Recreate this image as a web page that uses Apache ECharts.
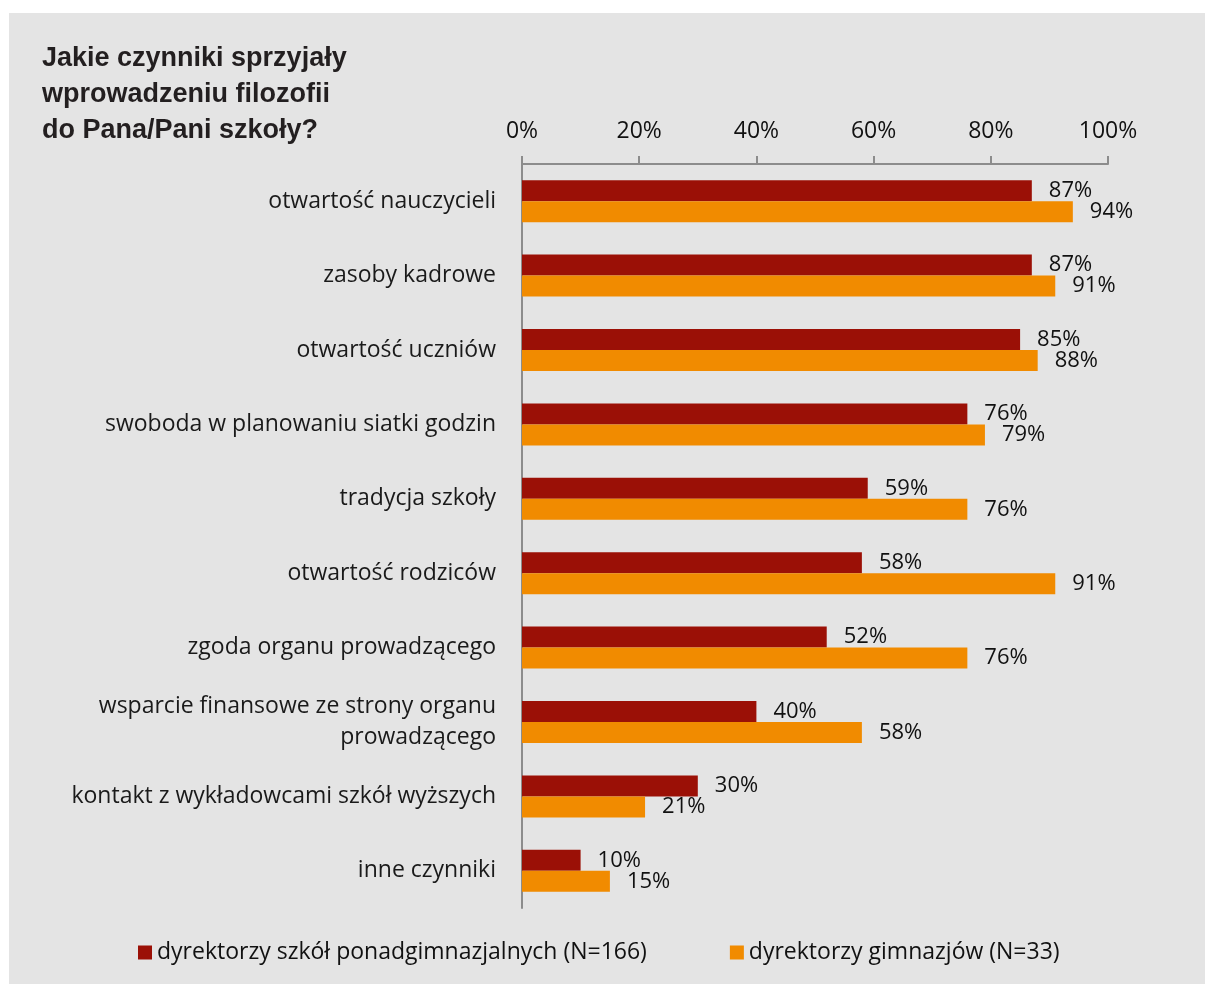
<!DOCTYPE html>
<html>
<head>
<meta charset="utf-8">
<script src="https://cdn.jsdelivr.net/npm/echarts@6/dist/echarts.min.js"></script>
<style>
  html, body { margin: 0; padding: 0; background: #ffffff; }
  #chart { position: absolute; left: 9px; top: 13px; width: 1196px; height: 971px; }
</style>
</head>
<body>
<div id="chart"></div>
<script>
// kategorie (od góry)
const categories = [
  "otwartość nauczycieli",
  "zasoby kadrowe",
  "otwartość uczniów",
  "swoboda w planowaniu siatki godzin",
  "tradycja szkoły",
  "otwartość rodziców",
  "zgoda organu prowadzącego",
  "wsparcie finansowe ze strony organu\nprowadzącego",
  "kontakt z wykładowcami szkół wyższych",
  "inne czynniki"
];
const seriesNames = ["dyrektorzy szkół ponadgimnazjalnych (N=166)", "dyrektorzy gimnazjów (N=33)"];
const ponadgimnazjalne = [87, 87, 85, 76, 59, 58, 52, 40, 30, 10];
const gimnazja = [94, 91, 88, 79, 76, 91, 76, 58, 21, 15];
const xTicks = [0, 20, 40, 60, 80, 100];

const labelFont = "'Open Sans', Lato, sans-serif";

let myChart = echarts.init(document.getElementById("chart"));
var option = {
  backgroundColor: "#e4e4e4",
  animation: false,
  title: {
    text: "Jakie czynniki sprzyjały\nwprowadzeniu filozofii\ndo Pana/Pani szkoły?",
    left: 33,
    top: 28,
    padding: 0,
    textStyle: {
      fontFamily: "'Liberation Sans', Arial, sans-serif",
      fontWeight: "bold",
      fontSize: 27,
      lineHeight: 36,
      color: "#231f20"
    }
  },
  legend: {
    data: seriesNames,
    left: 129,
    top: 928,
    padding: 0,
    icon: "rect",
    itemWidth: 14,
    itemHeight: 14,
    itemGap: 83,
    textStyle: { fontFamily: labelFont, fontSize: 23, color: "#111" }
  },
  grid: { left: 513, right: 97, top: 151, bottom: 76 },
  xAxis: {
    type: "value",
    position: "top",
    min: xTicks[0],
    max: xTicks[xTicks.length - 1],
    interval: 20,
    axisLine: { show: true, lineStyle: { color: "#8c8c8c", width: 2 } },
    axisTick: { show: true, length: 8, lineStyle: { color: "#8c8c8c", width: 2 } },
    splitLine: { show: false },
    axisLabel: {
      formatter: "{value}%",
      margin: 21,
      fontFamily: labelFont,
      fontSize: 23,
      color: "#111"
    }
  },
  yAxis: {
    type: "category",
    inverse: true,
    data: categories,
    axisLine: { show: true, lineStyle: { color: "#8c8c8c", width: 2 } },
    axisTick: { show: false },
    axisLabel: {
      margin: 26,
      fontFamily: labelFont,
      fontSize: 23,
      lineHeight: 31,
      color: "#1a1a1a",
      align: "right",
      padding: [3, 0, 0, 0]
    }
  },
  series: [
    {
      name: seriesNames[0],
      type: "bar",
      data: ponadgimnazjalne,
      barWidth: 21,
      barGap: "0%",
      itemStyle: { color: "#9b1006" },
      label: {
        show: true,
        position: "right",
        distance: 17,
        formatter: "{c}%",
        fontFamily: labelFont,
        fontSize: 22,
        color: "#111"
      }
    },
    {
      name: seriesNames[1],
      type: "bar",
      data: gimnazja,
      barWidth: 21,
      barGap: "0%",
      itemStyle: { color: "#f18b00" },
      label: {
        show: true,
        position: "right",
        distance: 17,
        formatter: "{c}%",
        fontFamily: labelFont,
        fontSize: 22,
        color: "#111"
      }
    }
  ]
};
window.onresize = myChart.resize;
myChart.setOption(option);
</script>
</body>
</html>
